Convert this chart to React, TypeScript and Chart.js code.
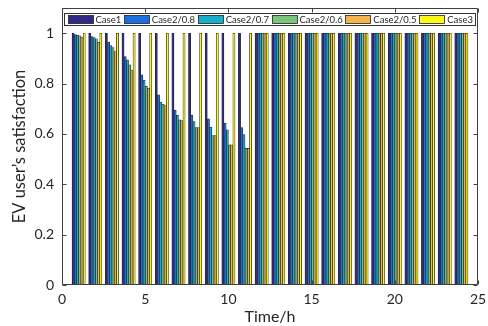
import React, { useEffect, useRef } from 'react';
import { Chart, registerables } from 'chart.js';

Chart.register(...registerables);

const hours = [1, 2, 3, 4, 5, 6, 7, 8, 9, 10, 11, 12, 13, 14, 15, 16, 17, 18, 19, 20, 21, 22, 23, 24];

const case1 = [1, 1, 1, 1, 1, 1, 1, 1, 1, 1, 1, 1, 1, 1, 1, 1, 1, 1, 1, 1, 1, 1, 1, 1];
const case2_08 = [0.995, 0.987, 0.965, 0.907, 0.835, 0.755, 0.695, 0.675, 0.66, 0.643, 0.625, 1, 1, 1, 1, 1, 1, 1, 1, 1, 1, 1, 1, 1];
const case2_07 = [0.992, 0.983, 0.951, 0.894, 0.814, 0.726, 0.674, 0.649, 0.627, 0.616, 0.597, 1, 1, 1, 1, 1, 1, 1, 1, 1, 1, 1, 1, 1];
const case2_06 = [0.99, 0.978, 0.943, 0.874, 0.789, 0.718, 0.656, 0.625, 0.593, 0.557, 0.543, 1, 1, 1, 1, 1, 1, 1, 1, 1, 1, 1, 1, 1];
const case2_05 = [0.985, 0.964, 0.927, 0.854, 0.782, 0.715, 0.653, 0.625, 0.593, 0.557, 0.543, 1, 1, 1, 1, 1, 1, 1, 1, 1, 1, 1, 1, 1];
const case3 = [1, 1, 1, 1, 1, 1, 1, 1, 1, 1, 1, 1, 1, 1, 1, 1, 1, 1, 1, 1, 1, 1, 1, 1];

const seriesNames = ['Case1', 'Case2/0.8', 'Case2/0.7', 'Case2/0.6', 'Case2/0.5', 'Case3'];
const seriesValues = [case1, case2_08, case2_07, case2_06, case2_05, case3];
const seriesColors = ['#2e2a86', '#1a70e0', '#18aec8', '#7cc47b', '#f2b44b', '#f9f91a'];

const xTicks = [0, 5, 10, 15, 20, 25];
const yTicks = [0, 0.2, 0.4, 0.6, 0.8, 1];

const FONT = 'Lato';
const TEXT = '#262626';
const AXIS = '#404040';

const framePlugin = {
  id: 'frameAndLegend',
  afterDatasetsDraw(chart: any) {
    const { ctx, chartArea } = chart;
    const { left, right, top, bottom } = chartArea;
    const xs = chart.scales.x;
    const ys = chart.scales.y;
    ctx.save();
    ctx.strokeStyle = AXIS;
    ctx.lineWidth = 1;
    ctx.beginPath();
    const L = Math.round(left) + 0.5;
    const R = Math.round(right) - 0.5;
    const T = Math.round(top) + 0.5;
    const B = Math.round(bottom) - 0.5;
    ctx.rect(L, T, R - L, B - T);
    const tl = 4;
    xs.ticks.forEach((t: any) => {
      const px = Math.round(xs.getPixelForValue(t.value)) + 0.5;
      ctx.moveTo(px, B);
      ctx.lineTo(px, B - tl);
      ctx.moveTo(px, T);
      ctx.lineTo(px, T + tl);
    });
    ys.ticks.forEach((t: any) => {
      const py = Math.round(ys.getPixelForValue(t.value)) + 0.5;
      ctx.moveTo(L, py);
      ctx.lineTo(L + tl, py);
      ctx.moveTo(R, py);
      ctx.lineTo(R - tl, py);
    });
    ctx.stroke();

    // legend box inside the plot area
    ctx.font = `9.5px ${FONT}`;
    const sw = 25;
    const sh = 8;
    const gap = 3;
    const bx = Math.round(left + 2) + 0.5;
    const bxr = Math.round(right - 3) + 0.5;
    const by = Math.round(top + 5) + 0.5;
    const bh = 12;
    const textW = seriesNames.map((n) => ctx.measureText(n).width);
    const used = textW.reduce((a, b) => a + b, 0) + seriesNames.length * (sw + gap);
    const spare = (bxr - bx - 3 - used) / seriesNames.length;
    ctx.fillStyle = '#ffffff';
    ctx.fillRect(bx, by, bxr - bx, bh);
    ctx.lineWidth = 1;
    ctx.strokeStyle = '#333333';
    ctx.strokeRect(bx, by, bxr - bx, bh);
    let cx = bx + 3;
    seriesNames.forEach((n, i) => {
      const sx = Math.round(cx) + 0.5;
      ctx.fillStyle = seriesColors[i];
      ctx.fillRect(sx, by + 2, sw, sh);
      ctx.strokeStyle = '#222222';
      ctx.lineWidth = 0.8;
      ctx.strokeRect(sx, by + 2, sw, sh);
      ctx.fillStyle = TEXT;
      ctx.textBaseline = 'middle';
      ctx.textAlign = 'left';
      ctx.fillText(n, cx + sw + gap, by + bh / 2 + 0.5);
      cx += sw + gap + textW[i] + spare;
    });
    ctx.restore();
  },
};

export default function App() {
  const ref = useRef<HTMLCanvasElement | null>(null);

  useEffect(() => {
    if (!ref.current) return;
    const chart = new Chart(ref.current, {
      type: 'bar',
      data: {
        datasets: seriesNames.map((name, i) => ({
          label: name,
          data: hours.map((h, j) => ({ x: h, y: seriesValues[i][j] })),
          backgroundColor: seriesColors[i],
          borderColor: '#262626',
          borderWidth: 0.7,
          inflateAmount: 0.3,
          categoryPercentage: 0.8,
          barPercentage: 1.0,
        })),
      },
      options: {
        responsive: false,
        animation: false,
        layout: { padding: { left: 0, right: 10, top: 8, bottom: 0 } },
        plugins: {
          legend: { display: false },
          tooltip: { enabled: false },
        },
        scales: {
          x: {
            type: 'linear',
            min: 0,
            max: 25,
            offset: false,
            grid: { display: false, drawTicks: false },
            border: { display: false },
            ticks: {
              font: { family: FONT, size: 14 },
              color: TEXT,
              padding: 6,
              maxRotation: 0,
              autoSkip: false,
              callback: (v: any) => String(v),
            },
            afterBuildTicks: (s: any) => {
              s.ticks = xTicks.map((v) => ({ value: v }));
            },
            afterFit: (s: any) => {
              s.height = 41;
              s.paddingLeft = 0;
              s.paddingRight = 0;
            },
            title: {
              display: true,
              text: 'Time/h',
              font: { family: FONT, size: 16 },
              color: TEXT,
              padding: { top: 0, bottom: 0 },
            },
          },
          y: {
            type: 'linear',
            min: 0,
            max: 1.1,
            grid: { display: false, drawTicks: false },
            border: { display: false },
            ticks: {
              font: { family: FONT, size: 14 },
              color: TEXT,
              padding: 8,
              callback: (v: any) => String(Math.round(Number(v) * 10) / 10),
            },
            afterBuildTicks: (s: any) => {
              s.ticks = yTicks.map((v) => ({ value: v }));
            },
            afterFit: (s: any) => {
              s.width = 62;
              s.paddingTop = 0;
              s.paddingBottom = 0;
            },
            title: {
              display: true,
              text: 'EV user\u2019s satisfaction',
              font: { family: FONT, size: 16.5 },
              color: TEXT,
              padding: { top: 10, bottom: 0 },
            },
          },
        },
      },
      plugins: [framePlugin],
    });
    return () => chart.destroy();
  }, []);

  return (
    <div style={{ position: 'fixed', left: 0, top: 0, width: 488, height: 326, background: '#fff' }}>
      <canvas ref={ref} width={488} height={326} style={{ display: 'block' }} />
    </div>
  );
}
